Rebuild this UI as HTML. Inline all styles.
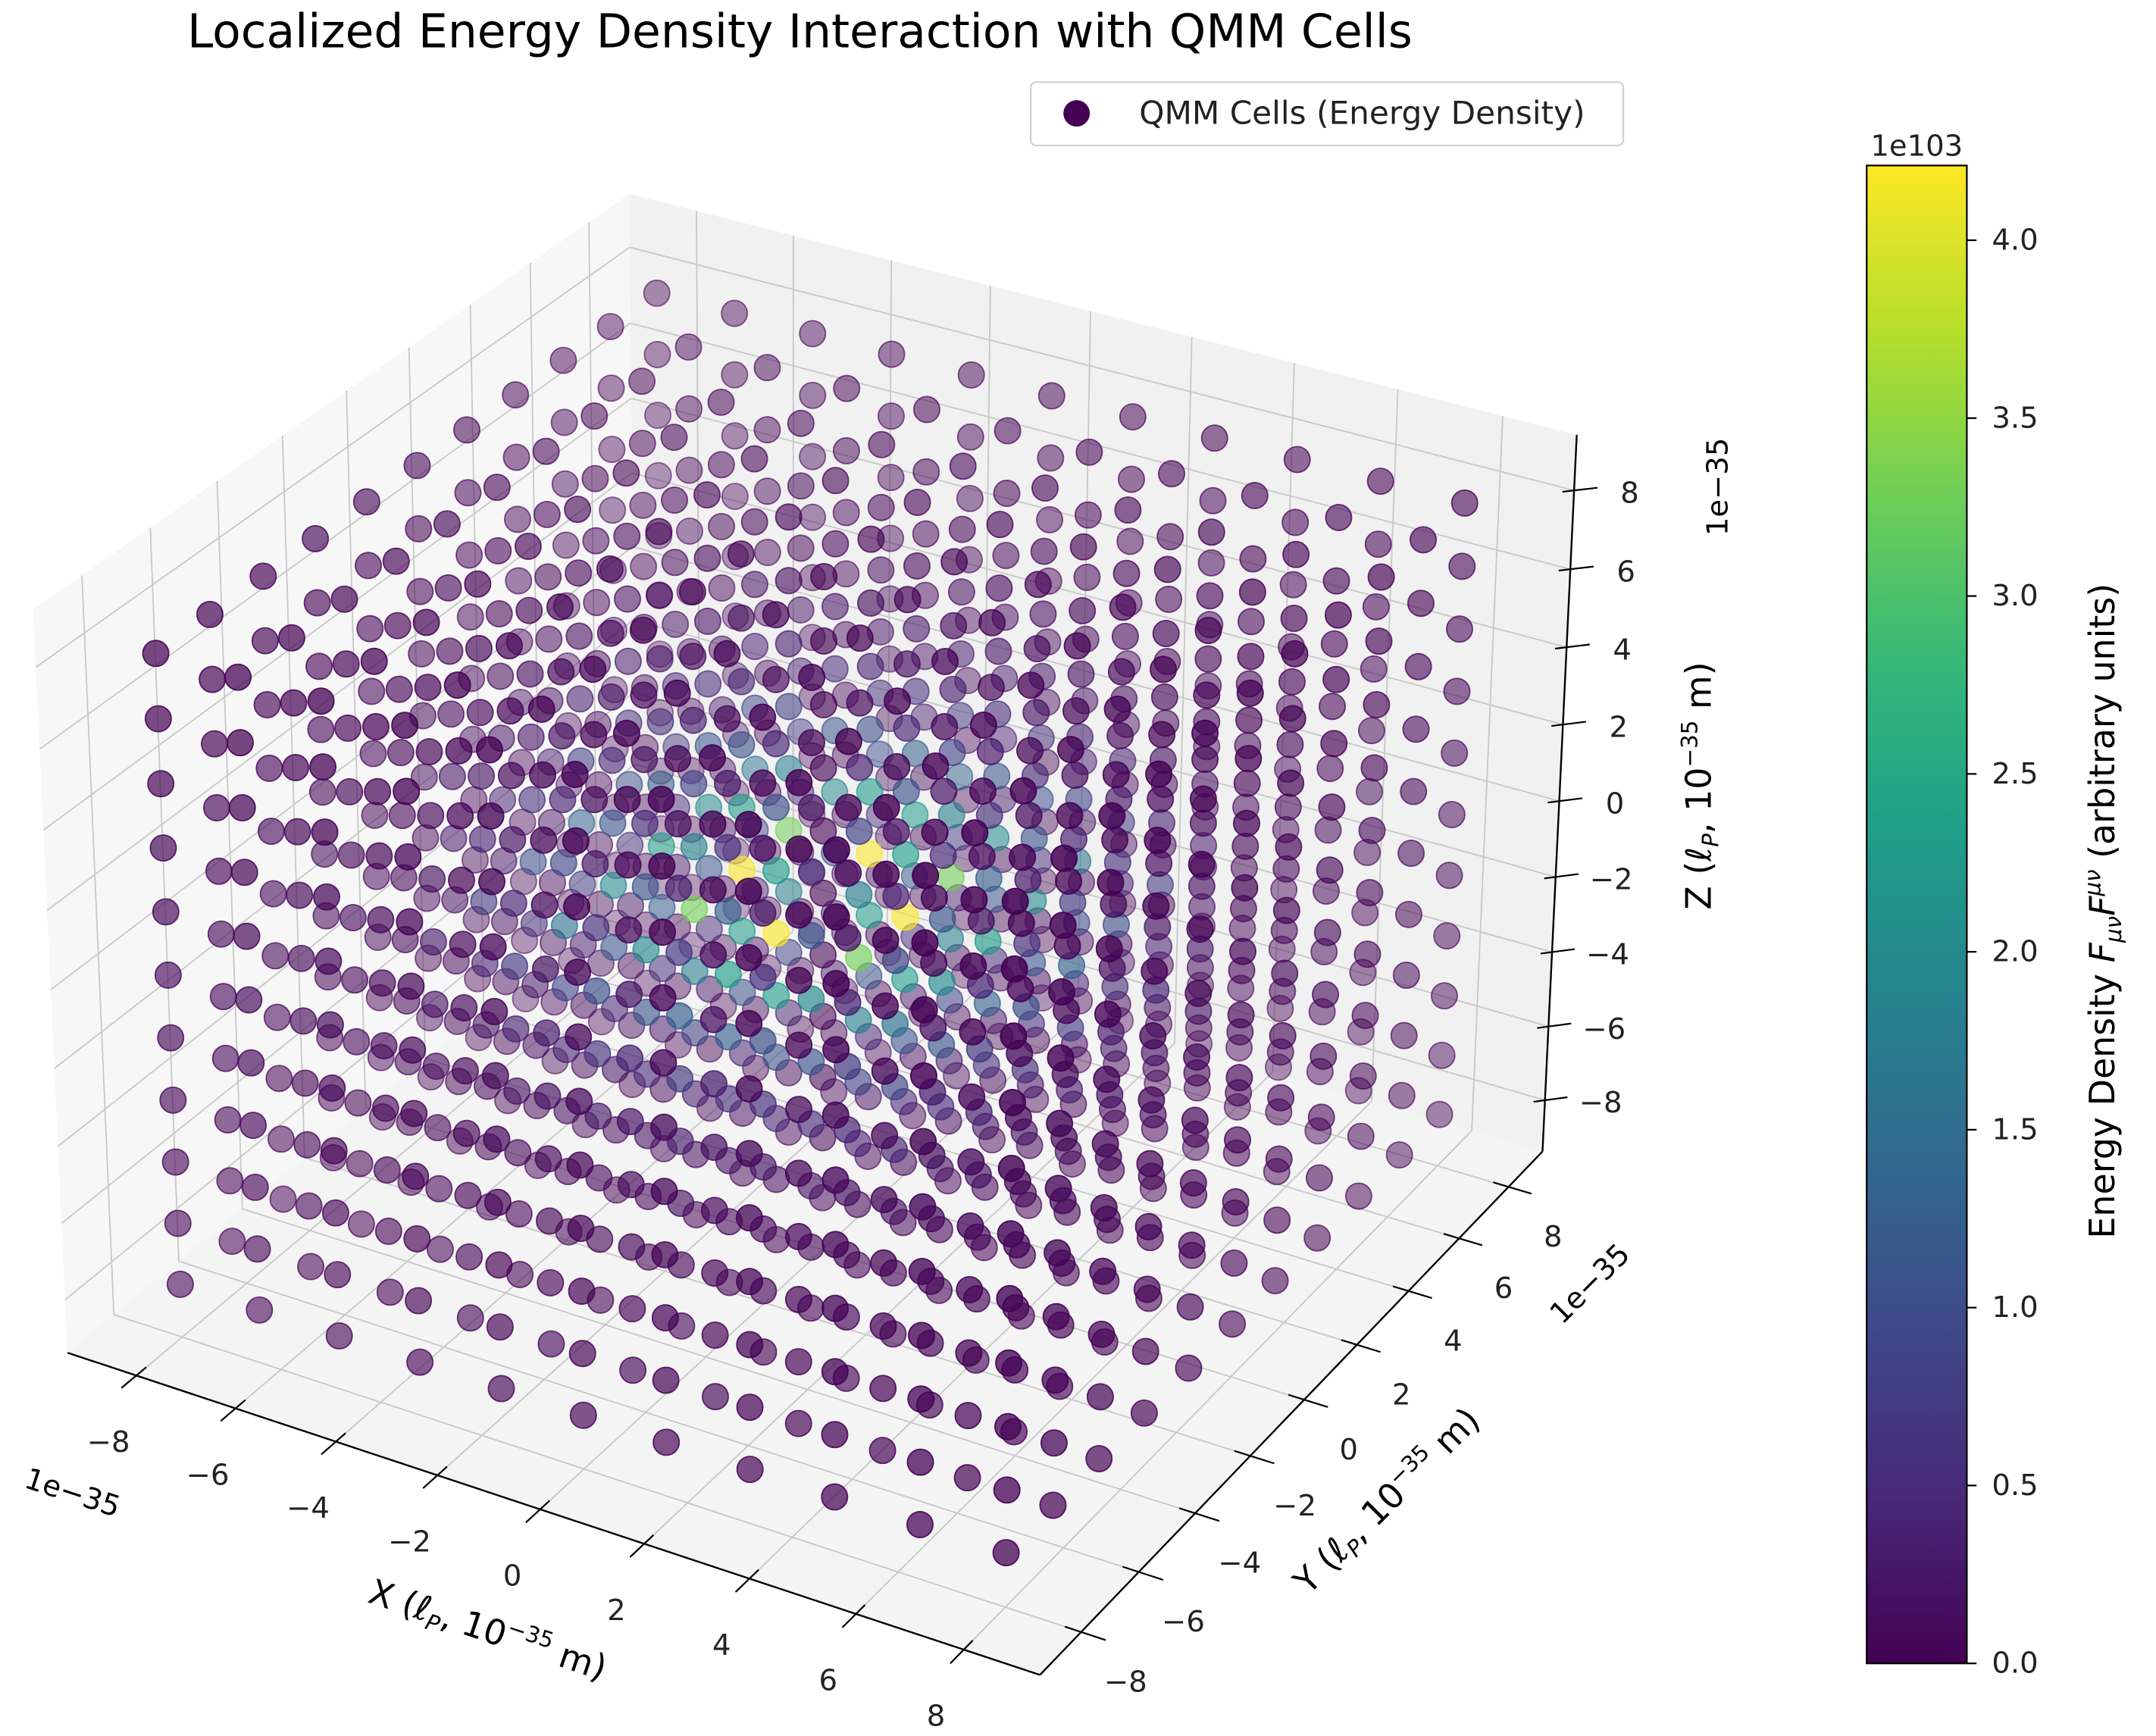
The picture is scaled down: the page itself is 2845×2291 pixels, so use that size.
<!DOCTYPE html>
<html><head><meta charset="utf-8"><title>Localized Energy Density Interaction with QMM Cells</title>
<style>html,body{margin:0;padding:0;background:#fff;}svg{display:block;font-family:"DejaVu Sans","Liberation Sans",sans-serif;}</style>
</head><body>
<svg id="chart" width="2845" height="2291" viewBox="0 0 1550 1248.2" preserveAspectRatio="none" xmlns="http://www.w3.org/2000/svg">
<defs>
<linearGradient id="viridis" x1="0" y1="1" x2="0" y2="0">
<stop offset="0" stop-color="#440154"/><stop offset="0.111" stop-color="#482878"/><stop offset="0.222" stop-color="#3e4989"/><stop offset="0.333" stop-color="#31688e"/><stop offset="0.444" stop-color="#26828e"/><stop offset="0.556" stop-color="#1f9e89"/><stop offset="0.667" stop-color="#35b779"/><stop offset="0.778" stop-color="#6ece58"/><stop offset="0.889" stop-color="#b5de2b"/><stop offset="1" stop-color="#fde725"/>
</linearGradient>
</defs>
<text x="575" y="34" font-size="33.5" text-anchor="middle" fill="#000">Localized Energy Density Interaction with QMM Cells</text>
<g id="panes"></g>
<g id="grid"></g>
<g id="axes"></g>
<g id="points"></g>
<g id="labels" font-size="21" fill="#222"></g>
<text font-size="25" text-anchor="middle" transform="translate(348,1180) rotate(18.5)">X (ℓ<tspan font-style="italic" font-size="16" dy="5">P</tspan><tspan dy="-5">, 10</tspan><tspan font-size="16" dy="-10">−35</tspan><tspan dy="10"> m)</tspan></text>
<text font-size="25" text-anchor="middle" transform="translate(1003,1085) rotate(-45)">Y (ℓ<tspan font-style="italic" font-size="16" dy="5">P</tspan><tspan dy="-5">, 10</tspan><tspan font-size="16" dy="-10">−35</tspan><tspan dy="10"> m)</tspan></text>
<text font-size="25" text-anchor="middle" transform="translate(1230,565) rotate(-90)">Z (ℓ<tspan font-style="italic" font-size="16" dy="5">P</tspan><tspan dy="-5">, 10</tspan><tspan font-size="16" dy="-10">−35</tspan><tspan dy="10"> m)</tspan></text>
<text font-size="21" text-anchor="middle" transform="translate(50,1080) rotate(18)">1e−35</text>
<text font-size="21" text-anchor="middle" transform="translate(1148,928) rotate(-45)">1e−35</text>
<text font-size="21" text-anchor="middle" transform="translate(1242,350) rotate(-90)">1e−35</text>
<g>
<rect x="741" y="59" width="426" height="45.6" rx="4" fill="#fff" stroke="#d0d0d0" stroke-width="1.2"/>
<circle cx="774" cy="81.5" r="9.5" fill="#440154"/>
<text x="819" y="89" font-size="23" fill="#222">QMM Cells (Energy Density)</text>
</g>
<g id="colorbar">
<rect x="1342" y="119" width="72" height="1077" fill="url(#viridis)" stroke="#000" stroke-width="1.2"/>
<text x="1378" y="112" font-size="21" text-anchor="middle" fill="#222">1e103</text>
<text font-size="25" text-anchor="middle" transform="translate(1520,655) rotate(-90)">Energy Density <tspan font-style="italic">F</tspan><tspan font-size="16" dy="5" font-style="italic">μν</tspan><tspan font-style="italic" dy="-5">F</tspan><tspan font-size="16" dy="-10" font-style="italic">μν</tspan><tspan dy="10"> (arbitrary units)</tspan></text>
</g>
</svg>
<script>
// ---- data ----
const gridCoords = [-8, -6.4, -4.8, -3.2, -1.6, 0, 1.6, 3.2, 4.8, 6.4, 8];
const axisTicks = [-8, -6, -4, -2, 0, 2, 4, 6, 8];
const axisTickLabels = ["−8", "−6", "−4", "−2", "0", "2", "4", "6", "8"];
// energy (x1e103) in the z=0 plane indexed by squared in-plane lattice offset (dx^2+dy^2)
const planeEnergy = [0, 4.2, 3.3, 0, 2.3, 2.0, 0, 0, 1.6, 1.3, 1.0, 0, 0, 0.7, 0, 0, 0.4, 0.3, 0.3];
// relative energy by lattice offset along z (|dz|)
const zFalloff = [1, 0.55, 0.25, 0.1, 0.03, 0];
const cbarTicks = [0, 0.5, 1.0, 1.5, 2.0, 2.5, 3.0, 3.5, 4.0];
const cbarTickLabels = ["0.0", "0.5", "1.0", "1.5", "2.0", "2.5", "3.0", "3.5", "4.0"];
const vmin = 0, vmax = 4.21;

// ---- projection: perspective camera matrix fitted (DLT) to visible box corners ----
const NS = "http://www.w3.org/2000/svg";
const L = 9.4;
const corners = [[-1,-1,-1,50,975],[1,-1,-1,745,1205],[1,1,-1,1110,825],[1,1,1,1135,315],[-1,1,1,450,140],[-1,-1,1,25,435]];
function solveN(A, b) {
  const n = b.length, M = A.map((r, i) => r.concat([b[i]]));
  for (let i = 0; i < n; i++) {
    let p = i; for (let k = i + 1; k < n; k++) if (Math.abs(M[k][i]) > Math.abs(M[p][i])) p = k;
    [M[i], M[p]] = [M[p], M[i]];
    for (let k = 0; k < n; k++) if (k !== i) { const f = M[k][i] / M[i][i]; for (let j = i; j <= n; j++) M[k][j] -= f * M[i][j]; }
  }
  return M.map((r, i) => r[n] / r[i]);
}
const rows = [], rhs = [];
corners.forEach(c => {
  const [u, v, w] = c, X = c[3] / 1000, Y = c[4] / 1000;
  rows.push([u, v, w, 1, 0, 0, 0, 0, -X*u, -X*v, -X*w]); rhs.push(X);
  rows.push([0, 0, 0, 0, u, v, w, 1, -Y*u, -Y*v, -Y*w]); rhs.push(Y);
});
const NA = Array.from({length: 11}, () => new Array(11).fill(0)), Nb = new Array(11).fill(0);
rows.forEach((r, k) => { for (let i = 0; i < 11; i++) { Nb[i] += r[i] * rhs[k]; for (let j = 0; j < 11; j++) NA[i][j] += r[i] * r[j]; } });
for (let i = 0; i < 11; i++) NA[i][i] += 1e-9;
const cam = solveN(NA, Nb);
function depth(x, y, z) { return 0.433 * x / L - 0.75 * y / L + 0.375 * z / L; }
function P(x, y, z) {
  const u = x / L, v = y / L, w = z / L;
  const den = cam[8]*u + cam[9]*v + cam[10]*w + 1;
  const X = (cam[0]*u + cam[1]*v + cam[2]*w + cam[3]) / den;
  const Y = (cam[4]*u + cam[5]*v + cam[6]*w + cam[7]) / den;
  return [X * 1000, Y * 1000, depth(x, y, z)];
}

function line(g, a, b, stroke, w, name) {
  const el = document.createElementNS(NS, "line");
  el.setAttribute("x1", a[0]); el.setAttribute("y1", a[1]); el.setAttribute("x2", b[0]); el.setAttribute("y2", b[1]);
  el.setAttribute("stroke", stroke); el.setAttribute("stroke-width", w);
  
  
  g.appendChild(el);
}
function poly(g, pts, fill, name) {
  const el = document.createElementNS(NS, "polygon");
  el.setAttribute("points", pts.map(p => p[0] + "," + p[1]).join(" "));
  el.setAttribute("fill", fill);
  
  
  g.appendChild(el);
}
function label(g, x, y, txt, name, anchor) {
  const el = document.createElementNS(NS, "text");
  el.setAttribute("x", x); el.setAttribute("y", y);
  el.setAttribute("text-anchor", anchor || "middle");
  el.setAttribute("dominant-baseline", "central");
  el.textContent = txt;
  
  
  g.appendChild(el);
}

// panes
const gp = document.getElementById("panes");
poly(gp, [P(-L,-L,-L), P(-L,L,-L), P(-L,L,L), P(-L,-L,L)], "#f7f7f7", "left-pane");
poly(gp, [P(-L,L,-L), P(L,L,-L), P(L,L,L), P(-L,L,L)], "#f1f1f1", "back-pane");
poly(gp, [P(-L,-L,-L), P(L,-L,-L), P(L,L,-L), P(-L,L,-L)], "#f4f4f4", "floor-pane");

// grid
const gg = document.getElementById("grid"), gc = "#c8c8c8";
axisTicks.forEach(t => {
  line(gg, P(-L,t,-L), P(-L,t,L), gc, 1, "left-pane-y-gridline");
  line(gg, P(-L,-L,t), P(-L,L,t), gc, 1, "left-pane-z-gridline");
  line(gg, P(t,L,-L), P(t,L,L), gc, 1, "back-pane-x-gridline");
  line(gg, P(-L,L,t), P(L,L,t), gc, 1, "back-pane-z-gridline");
  line(gg, P(t,-L,-L), P(t,L,-L), gc, 1, "floor-x-gridline");
  line(gg, P(-L,t,-L), P(L,t,-L), gc, 1, "floor-y-gridline");
});

// axes + ticks + labels
const ga = document.getElementById("axes"), gl = document.getElementById("labels");
line(ga, P(-L,-L,-L), P(L,-L,-L), "#000", 1.3, "x-axis-line");
line(ga, P(L,-L,-L), P(L,L,-L), "#000", 1.3, "y-axis-line");
line(ga, P(L,L,-L), P(L,L,L), "#000", 1.3, "z-axis-line");
axisTicks.forEach((t, i) => {
  line(ga, P(t,-L+0.3,-L), P(t,-L-0.45,-L), "#000", 1.2, "x-tick");
  const px = P(t,-L,-L); label(gl, px[0] - 20, px[1] + 48, axisTickLabels[i], "x-tick-label");
  line(ga, P(L-0.3,t,-L), P(L+0.45,t,-L), "#000", 1.2, "y-tick");
  const py = P(L,t,-L); label(gl, py[0] + 32, py[1] + 36, axisTickLabels[i], "y-tick-label");
  line(ga, P(L-0.15,L-0.15,t), P(L+0.3,L+0.3,t), "#000", 1.2, "z-tick");
  const pz = P(L,L,t); label(gl, pz[0] + 40, pz[1] + 2, axisTickLabels[i], "z-tick-label");
});

// colormap
const vir = [[68,1,84],[72,40,120],[62,73,137],[49,104,142],[38,130,142],[31,158,137],[53,183,121],[110,206,88],[181,222,43],[253,231,37]];
function cmap(v) {
  let t = Math.max(0, Math.min(1, (v - vmin) / (vmax - vmin))) * (vir.length - 1);
  const i = Math.min(vir.length - 2, Math.floor(t)), f = t - i;
  return "rgb(" + [0,1,2].map(k => Math.round(vir[i][k] + (vir[i+1][k] - vir[i][k]) * f)).join(",") + ")";
}
function energyAt(i, j, k) {
  const dx = i - 5, dy = j - 5, dz = Math.abs(k - 5);
  const d2 = dx*dx + dy*dy;
  const pe = d2 < planeEnergy.length ? planeEnergy[d2] : 0.08;
  return pe * (dz < zFalloff.length ? zFalloff[dz] : 0);
}

// scatter points
const pts = [];
gridCoords.forEach((x, i) => gridCoords.forEach((y, j) => gridCoords.forEach((z, k) => {
  const p = P(x, y, z); pts.push({ sx: p[0], sy: p[1], d: p[2], v: energyAt(i, j, k) });
})));
const dmin = Math.min(...pts.map(p => p.d)), dmax = Math.max(...pts.map(p => p.d));
pts.sort((a, b) => a.d - b.d);
const gpt = document.getElementById("points");
pts.forEach(p => {
  const near = (p.d - dmin) / (dmax - dmin);
  const a = 0.3 + 0.58 * near;
  const c = document.createElementNS(NS, "circle");
  c.setAttribute("cx", p.sx.toFixed(1)); c.setAttribute("cy", p.sy.toFixed(1)); c.setAttribute("r", 9.3);
  c.setAttribute("fill", cmap(p.v)); c.setAttribute("fill-opacity", a.toFixed(3));
  c.setAttribute("stroke", cmap(p.v)); c.setAttribute("stroke-opacity", Math.min(1, a + 0.15).toFixed(3)); c.setAttribute("stroke-width", 1);
  
  
  gpt.appendChild(c);
});

// colorbar ticks
const gcb = document.getElementById("colorbar");
const cbTop = 119, cbBot = 1196;
cbarTicks.forEach((t, i) => {
  const y = cbBot - (t - vmin) / (vmax - vmin) * (cbBot - cbTop);
  line(gcb, [1414, y], [1421, y], "#000", 1.2, "colorbar-tick");
  const el = document.createElementNS(NS, "text");
  el.setAttribute("x", 1432); el.setAttribute("y", y); el.setAttribute("dominant-baseline", "central");
  el.setAttribute("font-size", "21"); el.setAttribute("fill", "#222");
  el.textContent = cbarTickLabels[i];
  
  
  gcb.appendChild(el);
});
</script>
</body></html>
